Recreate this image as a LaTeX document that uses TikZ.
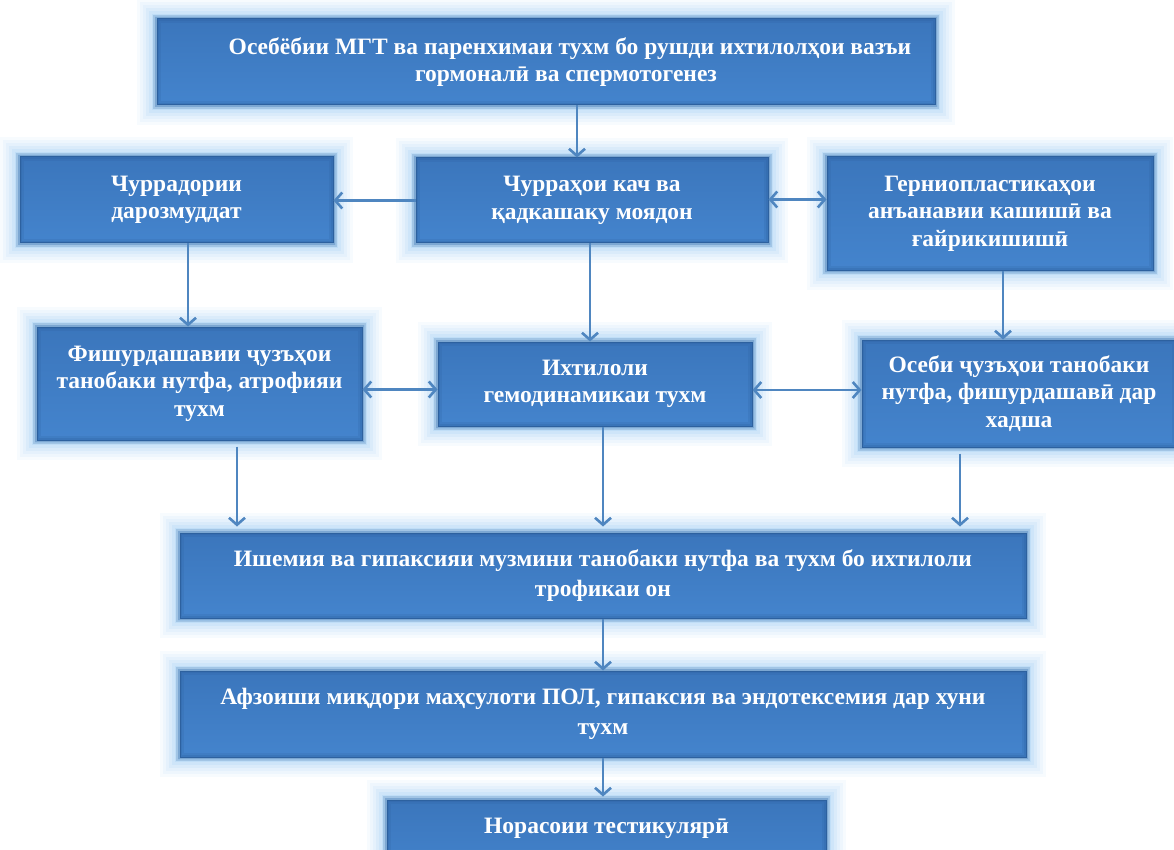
\documentclass[tikz,border=0pt]{standalone}
\usepackage{fontspec}
\setmainfont{Liberation Serif}
\usetikzlibrary{arrows.meta,calc}
\definecolor{glowc}{HTML}{7DBCF2}
\definecolor{boxtop}{HTML}{3B76BC}
\definecolor{boxmid}{HTML}{62A5E8}
\definecolor{boxbot}{HTML}{4484CD}
\definecolor{boxline}{HTML}{2D619F}
\definecolor{arrowc}{HTML}{4F86C0}
\tikzset{
  box/.style={rectangle, inner sep=0pt, align=center, text=white,
    font=\bfseries\fontsize{23.5}{27.5}\selectfont,
    preaction={draw=glowc, line width=40pt, opacity=0.06, rounded corners=18pt},
    preaction={draw=glowc, line width=34pt, opacity=0.07, rounded corners=15pt},
    preaction={draw=glowc, line width=28pt, opacity=0.08, rounded corners=12pt},
    preaction={draw=glowc, line width=22pt, opacity=0.10, rounded corners=9pt},
    preaction={draw=glowc, line width=16pt, opacity=0.12, rounded corners=6pt},
    preaction={draw=glowc, line width=10pt, opacity=0.16, rounded corners=3pt},
    preaction={draw=glowc, line width=5pt, opacity=0.2},
    top color=boxtop, middle color=boxmid, bottom color=boxbot,
    draw=boxline, line width=1pt,
    postaction={draw=boxline, line width=8pt, opacity=0.2},
    postaction={draw=boxline, line width=4pt, opacity=0.25}},
  wide/.style={font=\bfseries\fontsize{23.5}{29.5}\selectfont},
  conn/.style={draw=arrowc, line width=2.6pt, -{Straight Barb[length=7pt,width=16pt,line width=2.6pt]}},
  conn2/.style={draw=arrowc, line width=2.6pt, {Straight Barb[length=7pt,width=16pt,line width=2.6pt]}-{Straight Barb[length=7pt,width=16pt,line width=2.6pt]}}
}
\begin{document}
\begin{tikzpicture}[x=1pt,y=-1pt]
\useasboundingbox (0,0) rectangle (1174,850);
\clip (0,0) rectangle (1174,850);
\fill[white] (0,0) rectangle (1174,850);

\node[box, minimum width=778, minimum height=86] (top) at (546,62)
  {\hspace*{48pt}Осебёбии МГТ ва паренхимаи тухм бо рушди ихтилолҳои вазъи\\\hspace*{40pt}гормоналӣ ва спермотогенез};
\node[box, minimum width=313, minimum height=86] (l2) at (176.5,200)
  {Чуррадории\\дарозмуддат};
\node[box, minimum width=352, minimum height=85] (m2) at (592,200.5)
  {Чурраҳои кач ва\\қадкашаку моядон};
\node[box, minimum width=326, minimum height=113] (r2) at (990,213.5)
  {Герниопластикаҳои\\анъанавии кашишӣ ва\\ғайрикишишӣ};
\node[box, minimum width=325, minimum height=113] (l3) at (199.5,383.5)
  {Фишурдашавии ҷузъҳои\\танобаки нутфа, атрофияи\\тухм};
\node[box, minimum width=314, minimum height=84] (m3) at (595,384)
  {Ихтилоли\\гемодинамикаи тухм};
\node[box, minimum width=314, minimum height=107] (r3) at (1019,393.5)
  {Осеби ҷузъҳои танобаки\\нутфа, фишурдашавӣ дар\\хадша};
\node[box, wide, minimum width=846, minimum height=85] (ish) at (603,575.5)
  {Ишемия ва гипаксияи музмини танобаки нутфа ва тухм бо ихтилоли\\трофикаи он};
\node[box, wide, minimum width=846, minimum height=86] (afz) at (603,714)
  {Афзоиши миқдори маҳсулоти ПОЛ, гипаксия ва эндотексемия дар хуни\\тухм};
\node[box, minimum width=439, minimum height=80] (nor) at (606.5,840)
  {Норасоии тестикулярӣ\\[0pt]\mbox{}};

\draw[conn] ([xshift=31]top.south) -- ([xshift=31]top.south |- m2.north);
\draw[conn] (m2.west) -- (m2.west -| l2.east);
\draw[conn2] ([yshift=1]m2.east) -- ([yshift=1]m2.east -| r2.west);
\draw[conn] ([xshift=11.5]l2.south) -- ([xshift=11.5]l2.south |- l3.north);
\draw[conn] ([xshift=-2]m2.south) -- ([xshift=-2]m2.south |- m3.north);
\draw[conn] ([xshift=13]r2.south) -- ([xshift=13]r2.south |- r3.north);
\draw[conn2] ([yshift=-6]l3.east) -- ([yshift=-6]l3.east -| m3.west);
\draw[conn2] ([yshift=-6]m3.east) -- ([yshift=-6]m3.east -| r3.west);
\draw[conn, shorten >=6pt, shorten <=6pt] ([xshift=37.5]l3.south) -- ([xshift=37.5]l3.south |- ish.north);
\draw[conn, shorten >=6pt] (ish.north |- m3.south) -- (ish.north);
\draw[conn, shorten >=6pt, shorten <=6pt] ([xshift=-59]r3.south) -- ([xshift=-59]r3.south |- ish.north);
\draw[conn] (ish.south) -- (afz.north);
\draw[conn, shorten >=3pt] (afz.south) -- (afz.south |- nor.north);
\end{tikzpicture}
\end{document}
